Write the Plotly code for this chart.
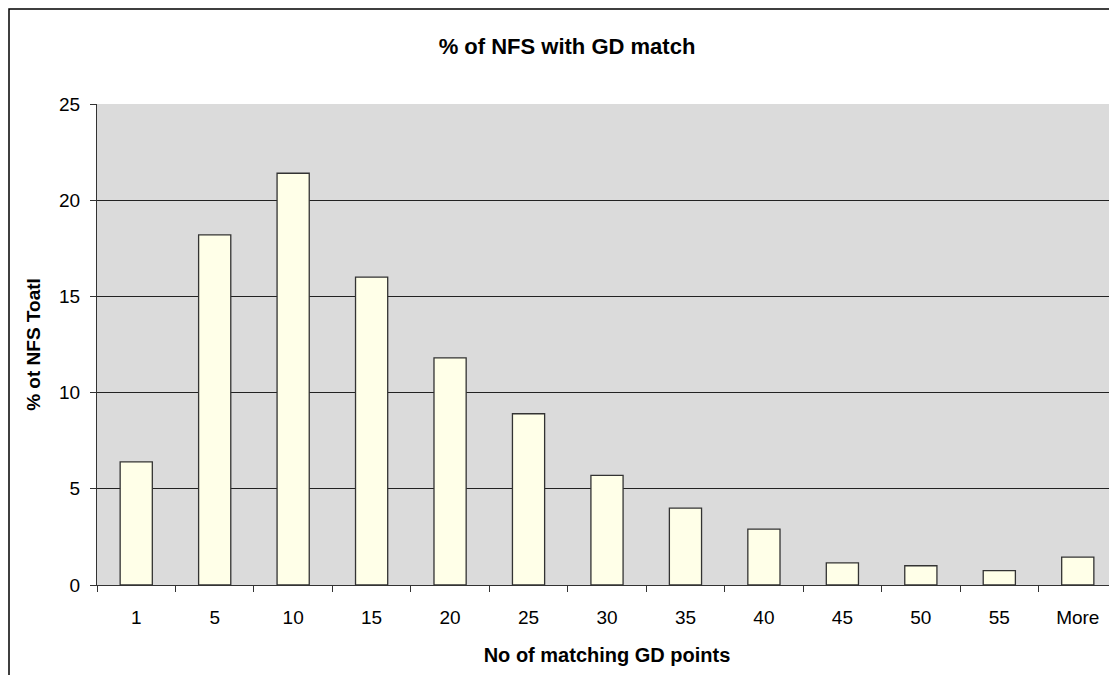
import plotly.graph_objects as go

categories = ["1", "5", "10", "15", "20", "25", "30", "35", "40", "45", "50", "55", "More"]
values = [6.4, 18.2, 21.4, 16.0, 11.8, 8.9, 5.7, 4.0, 2.9, 1.15, 1.0, 0.75, 1.45]

title_text = "% of NFS with GD match"
x_title = "No of matching GD points"
y_title = "% ot NFS Toatl"

fig = go.Figure()
fig.add_trace(go.Bar(
    x=categories, y=values,
    marker=dict(color="#FFFFE8", line=dict(color="#333333", width=1.3)),
    hoverinfo="x+y",
))

# page body has an 8px margin, so figure is sized to fit the window
W, H = 1109, 667
L, R, T, B = 89, 0, 96, 90

fig.update_layout(
    width=W, height=H,
    margin=dict(l=L, r=R, t=T, b=B),
    paper_bgcolor="white",
    plot_bgcolor="#DBDBDB",
    bargap=0.59,
    showlegend=False,
    font=dict(family="Liberation Sans, Arial, sans-serif", color="black", size=19),
    title=dict(text="<b>" + title_text + "</b>", x=(567 - 8 - L) / (W - L - R), xref="paper",
               xanchor="center", y=1 - 38 / H, yanchor="middle", font=dict(size=22)),
)

fig.update_xaxes(
    type="category",
    tickson="boundaries",
    ticks="outside", ticklen=6, tickcolor="#333333", tickwidth=1,
    ticklabelstandoff=15,
    showline=True, linecolor="#333333", linewidth=1,
    showgrid=False,
    title=dict(text="<b>" + x_title + "</b>", standoff=21, font=dict(size=20)),
    tickfont=dict(size=19),
)
fig.update_yaxes(
    range=[0, 25], dtick=5,
    ticks="outside", ticklen=6, tickcolor="#333333", tickwidth=1,
    ticklabelstandoff=6,
    showline=True, linecolor="#333333", linewidth=1,
    showgrid=True, gridcolor="#222222", gridwidth=1,
    zeroline=False,
    title=dict(text="<b>" + y_title + "</b>", standoff=13, font=dict(size=19)),
    tickfont=dict(size=19),
)

# outer chart border (left and top visible)
plot_w = W - L - R
plot_h = H - T - B
fig.add_shape(type="rect", xref="paper", yref="paper",
              x0=(1 - L) / plot_w, x1=(W + 20 - L) / plot_w,
              y0=-(H + 20 - (H - B)) / plot_h, y1=(H - B - 1) / plot_h,
              line=dict(color="black", width=1.5), fillcolor="rgba(0,0,0,0)",
              layer="below")

fig.write_html("out.html")
